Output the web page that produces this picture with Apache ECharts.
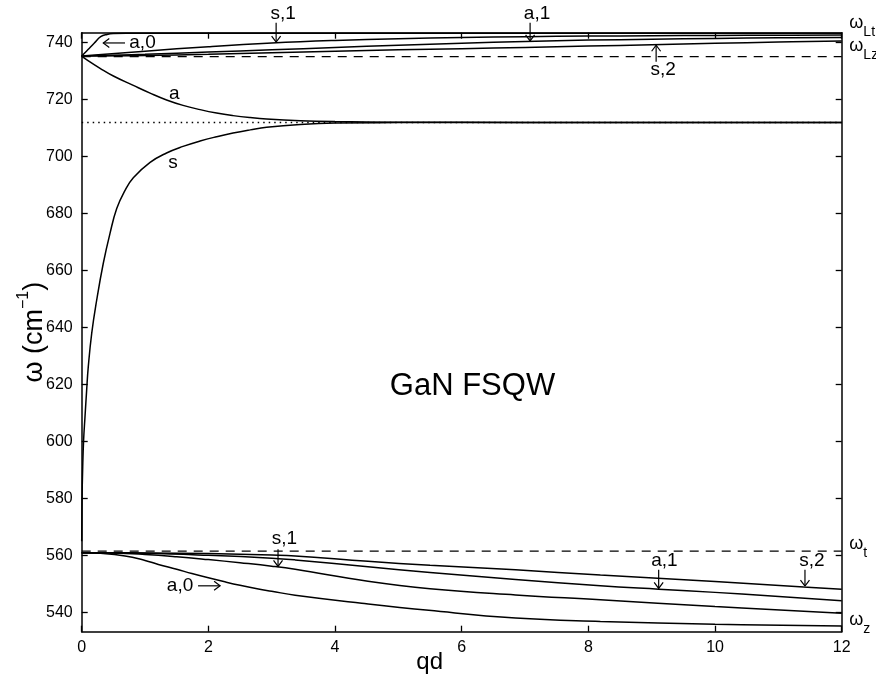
<!DOCTYPE html>
<html>
<head>
<meta charset="utf-8">
<script src="https://cdn.jsdelivr.net/npm/echarts@6/dist/echarts.min.js"></script>
<style>
  html, body { margin: 0; padding: 0; background: #fff; }
  #chart { width: 876px; height: 684px; }
</style>
</head>
<body>
<div id="chart"></div>
<script>
const font = 'Liberation Sans, Arial, Helvetica, sans-serif'

// axis ticks
const yTicks = [540, 560, 580, 600, 620, 640, 660, 680, 700, 720, 740]

// reference levels (cm^-1)
const omegaLz = 735.1
const omegaT = 561.6
const omegaInf = 712.0

// upper confined branches
const qFine = [0, 0.1, 0.2, 0.3, 0.4, 0.5, 0.7, 1, 2, 4, 8, 12]
const a0Upper = [735.3, 737.6, 739.9, 742.1, 742.9, 743.2, 743.3, 743.3, 743.3, 743.3, 743.3, 743.3]
const qUnit = [0, 1, 2, 3, 4, 5, 6, 7, 8, 9, 10, 11, 12]
const s1Upper = [735.3, 737.0, 738.6, 739.9, 740.8, 741.4, 741.8, 742.1, 742.3, 742.45, 742.55, 742.6, 742.7]
const a1Upper = [735.3, 735.9, 736.7, 737.5, 738.3, 739.1, 739.8, 740.4, 740.9, 741.2, 741.5, 741.7, 741.8]
const s2Upper = [735.3, 735.5, 735.9, 736.5, 737.0, 737.5, 737.9, 738.3, 738.8, 739.3, 739.8, 740.2, 740.6]

// interface modes
const qA = [0, 0.1, 0.29, 0.5, 0.815, 1.08, 1.34, 1.6, 1.87, 2.13, 2.39, 2.66, 2.92, 3.45, 4, 5, 6, 8, 12]
const aMid = [735.3, 733.7, 731.0, 728.3, 725.0, 722.3, 719.9, 718.0, 716.5, 715.3, 714.4, 713.7, 713.2, 712.6, 712.3, 712.1, 712.05, 712.0, 712.0]
const qS = [0, 0.005, 0.016, 0.03, 0.052, 0.078, 0.104, 0.158, 0.237, 0.341, 0.447, 0.553, 0.68, 0.815, 1.08, 1.34, 1.6, 1.87, 2.13, 2.39, 2.66, 2.92, 3.45, 4, 5, 6, 8, 12]
const sMid = [565, 579, 591.2, 600.5, 608.7, 618, 626.3, 638, 649.7, 662.6, 673.1, 681.8, 688.0, 692.6, 698.0, 701.3, 703.6, 705.5, 707.0, 708.3, 709.4, 710.3, 711.3, 711.8, 711.95, 712, 712, 712]

// lower confined branches
const qA0L = [0, 0.3, 0.685, 1.0, 1.21, 1.5, 1.74, 2.0, 2.26, 2.5, 2.79, 3.0, 3.37, 4.42, 5.48, 6.85, 8.19, 10, 12]
const a0Lower = [561.0, 560.8, 559.9, 558.3, 556.9, 555.2, 553.7, 552.2, 550.8, 549.6, 548.3, 547.5, 546.1, 543.3, 540.8, 538.1, 536.9, 535.9, 535.3]
const qS1L = [0, 0.5, 1, 1.5, 2, 2.5, 3, 3.37, 4.52, 5.5, 6.85, 8.19, 10, 12]
const s1Lower = [561.0, 560.9, 560.4, 559.6, 558.6, 557.5, 556.3, 555.2, 551.0, 548.4, 546.2, 544.5, 542.1, 539.8]
const qA1L = [0, 1, 2, 3, 3.37, 4.52, 5.5, 6.85, 8.19, 9.11, 10, 12]
const a1Lower = [561.0, 560.8, 560.1, 559.1, 558.5, 556.1, 554.1, 551.6, 549.4, 548.2, 547.1, 544.2]
const qS2L = [0, 1, 2, 3, 3.37, 4.52, 5.5, 6.85, 8.19, 10, 11.4, 12]
const s2Lower = [561.0, 560.95, 560.7, 560.2, 559.9, 558.0, 556.6, 555.0, 553.2, 550.9, 549.0, 548.2]

// annotations
const noteText = ['a,0', 's,1', 'a,1', 's,2', 'a', 's', 's,1', 'a,0', 'a,1', 's,2']
const noteX = [0.96, 3.18, 7.19, 9.18, 1.46, 1.44, 3.2, 1.553, 9.2, 11.53]
const noteY = [739.8, 750.2, 750.2, 730.4, 722.0, 697.7, 565.9, 549.5, 558.1, 558.1]
const arrowX1 = [0.684, 3.07, 7.08, 9.07, 1.837, 3.1, 9.11, 11.42]
const arrowY1 = [739.9, 747.0, 747.0, 733.3, 549.4, 562.2, 555.0, 555.0]
const arrowX2 = [0.341, 3.07, 7.08, 9.07, 2.185, 3.1, 9.11, 11.42]
const arrowY2 = [739.9, 740.2, 740.6, 739.1, 549.4, 556.2, 548.5, 549.3]
const omegaSub = ['Lt', 'Lz', 't', 'z']
const omegaY = [746.9, 738.8, 563.9, 537.4]
const omegaX = 12.12

const pairs = (xs, ys) => xs.map((x, i) => [x, ys[i]])

const curve = (name, xs, ys) => ({
  name,
  type: 'line',
  data: pairs(xs, ys),
  showSymbol: false,
  smooth: 0.45,
  lineStyle: { color: '#000', width: 1.5 },
  z: 3
})

const level = (name, y, type) => ({
  name,
  type: 'line',
  data: [[0, y], [12, y]],
  showSymbol: false,
  lineStyle: { color: '#000', width: type === 'dotted' ? 1.5 : 1.3, type: type === 'dotted' ? [1.5, 4] : [9, 7] },
  z: 2
})

const chart = echarts.init(document.getElementById('chart'))

const axisLine = { show: true, onZero: false, lineStyle: { color: '#000', width: 1.5 } }
const axisTick = { show: true, inside: true, length: 6, lineStyle: { color: '#000', width: 1.3 } }

chart.setOption({
  animation: false,
  backgroundColor: '#fff',
  grid: { left: 81.7, right: 34.3, top: 32.7, bottom: 52.3, containLabel: false, outerBoundsMode: 'none' },
  xAxis: [
    {
      type: 'value', min: 0, max: 12, interval: 2, position: 'bottom',
      axisLine, axisTick,
      axisLabel: { color: '#000', fontSize: 16, fontFamily: font, margin: 8 },
      splitLine: { show: false },
      name: 'qd', nameLocation: 'middle', nameGap: 19, nameMoveOverlap: false,
      nameTextStyle: { color: '#000', fontSize: 24, fontFamily: font, padding: [0, 64, 0, 0] }
    },
    {
      type: 'value', min: 0, max: 12, interval: 2, position: 'top',
      axisLine, axisTick, axisLabel: { show: false }, splitLine: { show: false }
    }
  ],
  yAxis: [
    {
      type: 'value', min: 533.3, max: 743.5, position: 'left',
      axisLine,
      axisTick: { ...axisTick, customValues: yTicks },
      axisLabel: { color: '#000', fontSize: 16, fontFamily: font, margin: 9, customValues: yTicks },
      splitLine: { show: false },
      name: '{w|ω (cm}{sup|−1}{w|)}', nameLocation: 'middle', nameGap: 28, nameMoveOverlap: false,
      nameTextStyle: {
        color: '#000', fontFamily: font,
        rich: {
          w: { fontSize: 27, lineHeight: 38, fontFamily: font, color: '#000' },
          sup: { fontSize: 16, lineHeight: 15, verticalAlign: 'top', fontFamily: font, color: '#000' }
        }
      }
    },
    {
      type: 'value', min: 533.3, max: 743.5, position: 'right',
      axisLine,
      axisTick: { ...axisTick, customValues: yTicks },
      axisLabel: { show: false }, splitLine: { show: false }
    }
  ],
  series: [
    level('omega_inf', omegaInf, 'dotted'),
    level('omega_Lz', omegaLz, 'dashed'),
    level('omega_t', omegaT, 'dashed'),
    curve('a,0 upper', qFine, a0Upper),
    curve('s,1 upper', qUnit, s1Upper),
    curve('a,1 upper', qUnit, a1Upper),
    curve('s,2 upper', qUnit, s2Upper),
    curve('a', qA, aMid),
    curve('s', qS, sMid),
    curve('a,0 lower', qA0L, a0Lower),
    curve('s,1 lower', qS1L, s1Lower),
    curve('a,1 lower', qA1L, a1Lower),
    curve('s,2 lower', qS2L, s2Lower),
    {
      type: 'custom',
      clip: false,
      silent: true,
      data: pairs(noteX, noteY),
      renderItem: (params, api) => {
        const p = api.coord([noteX[params.dataIndex], noteY[params.dataIndex]])
        return {
          type: 'text', x: p[0], y: p[1],
          style: { text: noteText[params.dataIndex], fill: '#000', fontSize: 19, fontFamily: font, align: 'center', verticalAlign: 'middle' }
        }
      },
      z: 5
    },
    {
      type: 'custom',
      clip: false,
      silent: true,
      data: [[6.17, 619.5]],
      renderItem: (params, api) => {
        const p = api.coord([6.17, 619.5])
        return {
          type: 'text', x: p[0], y: p[1],
          style: { text: 'GaN FSQW', fill: '#000', fontSize: 31, fontFamily: font, align: 'center', verticalAlign: 'middle' }
        }
      },
      z: 5
    },
    {
      type: 'custom',
      clip: false,
      silent: true,
      data: pairs(arrowX2, arrowY2),
      renderItem: (params, api) => {
        const i = params.dataIndex
        const a = api.coord([arrowX1[i], arrowY1[i]])
        const b = api.coord([arrowX2[i], arrowY2[i]])
        const len = Math.hypot(b[0] - a[0], b[1] - a[1]) || 1
        const ux = (b[0] - a[0]) / len
        const uy = (b[1] - a[1]) / len
        const back = [b[0] - ux * 6, b[1] - uy * 6]
        return {
          type: 'group',
          children: [
            { type: 'line', shape: { x1: a[0], y1: a[1], x2: b[0], y2: b[1] }, style: { stroke: '#000', lineWidth: 1.2 } },
            {
              type: 'polyline',
              shape: { points: [[back[0] - uy * 4.5, back[1] + ux * 4.5], [b[0], b[1]], [back[0] + uy * 4.5, back[1] - ux * 4.5]] },
              style: { stroke: '#000', fill: null, lineWidth: 1.2 }
            }
          ]
        }
      },
      z: 5
    },
    {
      type: 'custom',
      clip: false,
      silent: true,
      data: omegaY.map(y => [omegaX, y]),
      renderItem: (params, api) => {
        const p = api.coord([omegaX, omegaY[params.dataIndex]])
        return {
          type: 'text', x: p[0], y: p[1],
          style: {
            text: '{w|ω}{s|' + omegaSub[params.dataIndex] + '}',
            align: 'left', verticalAlign: 'middle',
            rich: {
              w: { fontSize: 18, lineHeight: 32, fontFamily: font, fill: '#000', color: '#000' },
              s: { fontSize: 14, lineHeight: 14, verticalAlign: 'bottom', fontFamily: font, fill: '#000', color: '#000' }
            }
          }
        }
      },
      z: 5
    }
  ]
})
</script>
</body>
</html>
